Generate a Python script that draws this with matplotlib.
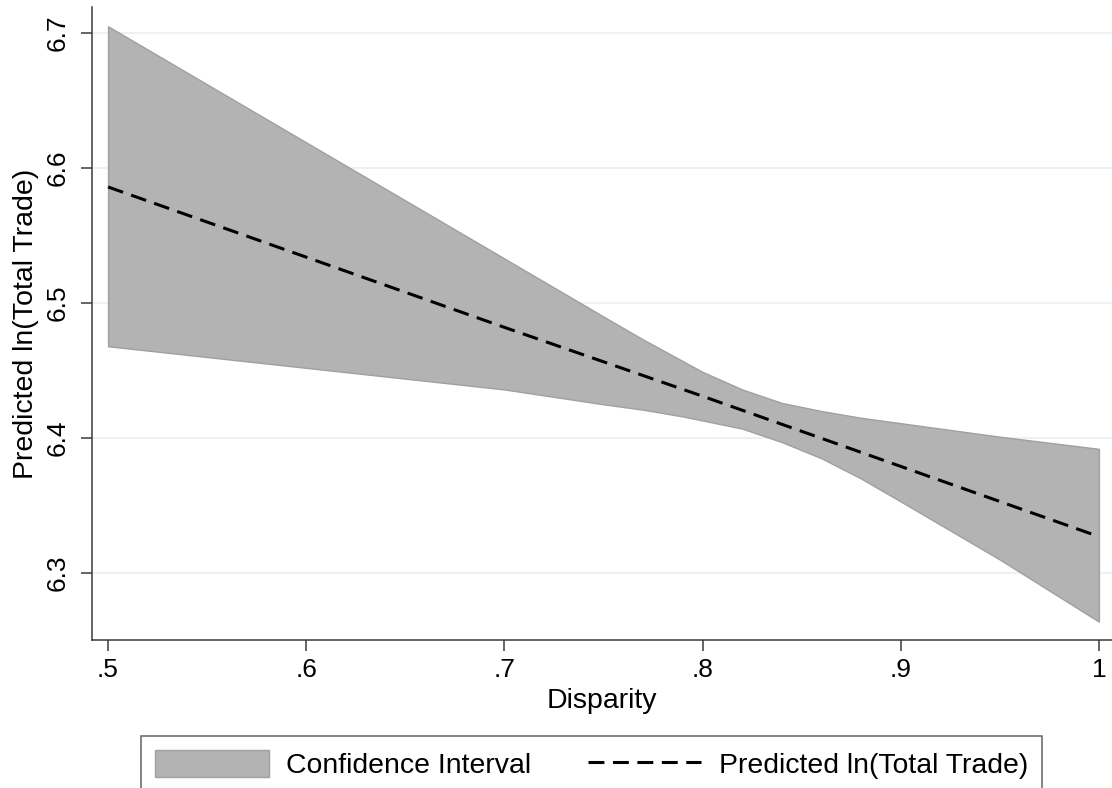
import matplotlib
matplotlib.use("Agg")
import matplotlib.pyplot as plt
from matplotlib.patches import Patch
from matplotlib.lines import Line2D

plt.rcParams['font.family'] = ['Liberation Sans', 'DejaVu Sans']

# ------------------------------ Data ------------------------------

# confidence band
ci_x = [0.50, 0.60, 0.70, 0.75, 0.77, 0.79, 0.80, 0.82, 0.84, 0.86, 0.88, 0.90, 0.95, 1.00]
ci_upper = [6.705, 6.619, 6.533, 6.490, 6.473, 6.457, 6.449, 6.436, 6.426, 6.420, 6.415, 6.411, 6.401, 6.392]
ci_lower = [6.468, 6.452, 6.436, 6.425, 6.421, 6.416, 6.413, 6.407, 6.397, 6.385, 6.370, 6.353, 6.310, 6.264]

# predicted line
pred_x = [0.5, 0.6, 0.7, 0.8, 0.9, 1.0]
pred_y = [6.586, 6.534, 6.482, 6.431, 6.379, 6.327]

xticks = [0.5, 0.6, 0.7, 0.8, 0.9, 1.0]
xtick_labels = ['.5', '.6', '.7', '.8', '.9', '1']
yticks = [6.3, 6.4, 6.5, 6.6, 6.7]
ytick_labels = ['6.3', '6.4', '6.5', '6.6', '6.7']

# ------------------------------ Plot ------------------------------

fig = plt.figure(figsize=(11.12, 7.88), dpi=100)
ax = fig.add_axes([92 / 1112, 148 / 788, 1020 / 1112, 633 / 788])

band_face = '#b3b3b3'
band_edge = '#a0a0a0'

ax.fill_between(ci_x, ci_lower, ci_upper, facecolor=band_face, edgecolor=band_edge,
                linewidth=1.0, zorder=2)
ax.plot(pred_x, pred_y, color='black', linewidth=2.2, dashes=(5.2, 2.8), zorder=3)

ax.set_xlim(0.4919, 1.0066)
ax.set_ylim(6.2504, 6.7193)

ax.set_xticks(xticks)
ax.set_xticklabels(xtick_labels)
ax.set_yticks(yticks)
ax.set_yticklabels(ytick_labels, rotation=90, va='center')

ax.grid(axis='y', color='#eaf2f3', linewidth=1.5, zorder=0)
ax.set_axisbelow(True)

for side in ['top', 'right']:
    ax.spines[side].set_visible(False)
for side in ['left', 'bottom']:
    ax.spines[side].set_color('#3a3a3a')
    ax.spines[side].set_linewidth(1.1)

ax.tick_params(axis='both', labelsize=19, length=8, width=1.1, color='#3a3a3a')
ax.tick_params(axis='x', pad=5)
ax.tick_params(axis='y', pad=8)

ax.set_xlabel('Disparity', fontsize=20.5)
ax.set_ylabel('Predicted ln(Total Trade)', fontsize=20.5)
ax.xaxis.set_label_coords(0.5, -0.076)
ax.yaxis.set_label_coords(-0.052, 0.5)

handles = [
    Patch(facecolor=band_face, edgecolor=band_edge, linewidth=1.0),
    Line2D([0], [0], color='black', linewidth=2.2, dashes=(5.2, 2.8)),
]
labels = ['Confidence Interval', 'Predicted ln(Total Trade)']
leg = fig.legend(handles, labels, loc='upper left', bbox_to_anchor=(141 / 1112, 1 - 736 / 788),
                 ncol=2, fontsize=20.4, frameon=True, fancybox=False, shadow=False,
                 handlelength=4.0, handleheight=1.08, handletextpad=0.62,
                 columnspacing=2.0, borderpad=0.5, borderaxespad=0)
leg.get_frame().set_edgecolor('#3a3a3a')
leg.get_frame().set_linewidth(1.1)

fig.savefig('out.png', dpi=100)
